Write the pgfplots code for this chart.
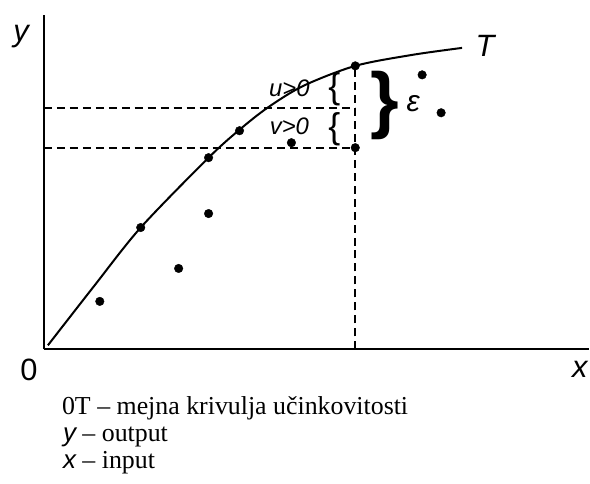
\documentclass[border=0pt]{standalone}
\usepackage{fontspec}
\setmainfont{Liberation Serif}
\setsansfont{Liberation Sans}
\usepackage{pgfplots}
\pgfplotsset{compat=1.18}

\newcommand{\lab}[1]{\fontsize{#1}{#1}\selectfont\sffamily\itshape}

\begin{document}
\begin{tikzpicture}
\begin{axis}[
  scale only axis,
  width=546bp, height=335bp,
  xmin=0, xmax=546, ymin=0, ymax=335,
  axis lines=left,
  axis line style={-, line width=2.4bp},
  xtick=\empty, ytick=\empty,
  clip=false,
]
% page extent (caption below the axes)
\path (axis cs:-44,-134) rectangle (axis cs:546,350);

% efficiency frontier 0T
\addplot[smooth, line width=2bp, black] coordinates {
  (4,4) (50,63) (97,122) (165,192) (196,220) (224,242)
  (260,264) (312,284) (369,295) (419,302)
};

% reference levels
\addplot[black, line width=1.7bp, dash pattern=on 8bp off 5bp] coordinates {(0,242) (312,242)};
\addplot[black, line width=1.7bp, dash pattern=on 8bp off 5bp] coordinates {(0,202) (312,202)};
\addplot[black, line width=1.7bp, dash pattern=on 8bp off 5bp] coordinates {(312,0) (312,284)};

% observed units
\addplot[only marks, mark=*, mark size=4.3bp, black] coordinates {
  (56,48) (97,122) (135,81) (165,136) (165,192) (196,219)
  (248,207) (312,284) (312,202) (379,275) (398,237)
};

% annotations
\node[inner sep=0] at (axis cs:-23,313) {\lab{31}y};
\node[inner sep=0] at (axis cs:442,304) {\lab{31}T};
\node[inner sep=0] at (axis cs:-15,-21) {\fontsize{31}{31}\selectfont\sffamily 0};
\node[inner sep=0] at (axis cs:537,-20) {\lab{31}x};

\node[inner sep=0] at (axis cs:246,262) {\lab{24}u>0};
\node[inner sep=0] at (axis cs:246,223) {\lab{24}v>0};
\node[inner sep=0] at (axis cs:291,261) {\fontsize{36}{36}\selectfont\sffamily\{};
\node[inner sep=0] at (axis cs:291,220) {\fontsize{36}{36}\selectfont\sffamily\{};
\node[inner sep=0] at (axis cs:342,244) {\fontsize{74}{74}\selectfont\sffamily\bfseries\}};
\node[inner sep=0] at (axis cs:370,246) {\lab{30}ε};

% caption
\node[inner sep=0, anchor=base west] at (axis cs:18,-65)
  {\fontsize{26}{26}\selectfont 0T – mejna krivulja učinkovitosti};
\node[inner sep=0, anchor=base west] at (axis cs:19,-92)
  {\fontsize{26}{26}\selectfont{\sffamily\itshape y} – output};
\node[inner sep=0, anchor=base west] at (axis cs:19,-119)
  {\fontsize{26}{26}\selectfont{\sffamily\itshape x} – input};
\end{axis}
\end{tikzpicture}
\end{document}
